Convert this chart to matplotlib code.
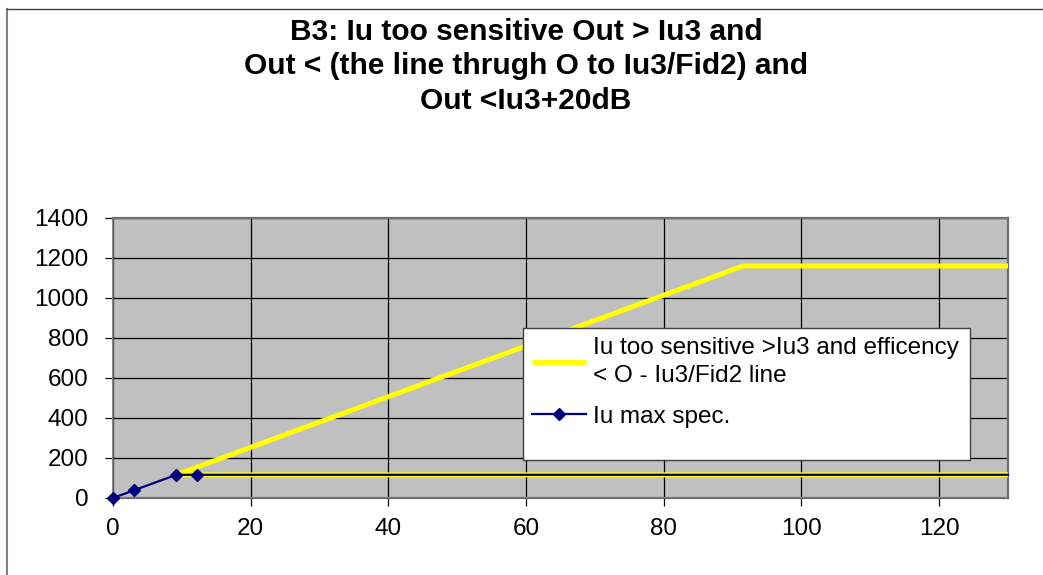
import matplotlib
matplotlib.use("Agg")
import matplotlib.pyplot as plt
from matplotlib.lines import Line2D
from matplotlib.patches import Rectangle

plt.rcParams["font.family"] = ["Liberation Sans", "DejaVu Sans"]

# data
yellow_x = [130, 9.2, 91.5, 130]
yellow_y = [116, 116, 1160, 1160]
navy_x = [0, 3, 9.2, 12.2, 130]
navy_y = [0, 38, 116, 116, 116]
navy_marked = [0, 1, 2, 3]

yellow_label = "Iu too sensitive >Iu3 and efficency\n< O - Iu3/Fid2 line"
navy_label = "Iu max spec."
title_lines = ["B3: Iu too sensitive Out > Iu3 and",
               "Out < (the line thrugh O to Iu3/Fid2) and",
               "Out <Iu3+20dB"]

W, H = 1043, 575
fig = plt.figure(figsize=(W / 100, H / 100), dpi=100)

def px(x0, y0, x1, y1):
    # pixel box -> figure fraction [left, bottom, width, height]
    return [x0 / W, 1 - y1 / H, (x1 - x0) / W, (y1 - y0) / H]

# outer chart border (only left and top visible)
fig.add_artist(Line2D([7 / W, 7 / W], [0, 1 - 9 / H], transform=fig.transFigure,
                      color="#808080", lw=1.5))
fig.add_artist(Line2D([7 / W, 1], [1 - 9 / H, 1 - 9 / H], transform=fig.transFigure,
                      color="#404040", lw=1.0))

ax = fig.add_axes(px(113, 218, 1008, 498))
ax.set_facecolor("#C0C0C0")

ax.plot(yellow_x, yellow_y, color="#FFFF00", lw=3.6, solid_joinstyle="miter",
        solid_capstyle="butt", zorder=3, label=yellow_label)
ax.plot(navy_x, navy_y, color="#000080", lw=1.6, marker="D", markersize=6,
        markevery=navy_marked, zorder=4, label=navy_label, clip_on=False)

ax.set_xlim(0, 130)
ax.set_ylim(0, 1400)
ax.set_xticks(range(0, 121, 20))
ax.set_yticks(range(0, 1401, 200))
ax.grid(True, color="black", lw=0.9)
ax.set_axisbelow(True)

for s in ["top", "right", "bottom"]:
    ax.spines[s].set_color("#707070")
    ax.spines[s].set_linewidth(1.6)
ax.spines["left"].set_color("#707070")
ax.spines["left"].set_linewidth(1.2)

ax.tick_params(axis="both", labelsize=17.5, length=5.5, width=0.9, color="black")
ax.tick_params(axis="x", pad=9)
ax.tick_params(axis="y", pad=12)

# title
for i, t in enumerate(title_lines):
    fig.text(526 / W, 1 - (32 + 34.5 * i) / H, t, ha="center", va="center",
             fontsize=21.5, fontweight="bold")

# legend box
fig.add_artist(Rectangle((523 / W, 1 - 460 / H), (970 - 523) / W, (460 - 328) / H,
                         transform=fig.transFigure, facecolor="white",
                         edgecolor="#404040", lw=1.0, zorder=5))
leg = fig.legend(handles=ax.get_lines(), loc="upper left",
                 bbox_to_anchor=(530 / W, 1 - 335 / H), frameon=False,
                 fontsize=17.5, handlelength=2.2, handletextpad=0.3,
                 labelspacing=0.75, borderaxespad=0, borderpad=0.1)
leg.get_texts()[0].set_linespacing(1.35)
leg.set_zorder(6)

fig.savefig("out.png", dpi=100, facecolor="white")
